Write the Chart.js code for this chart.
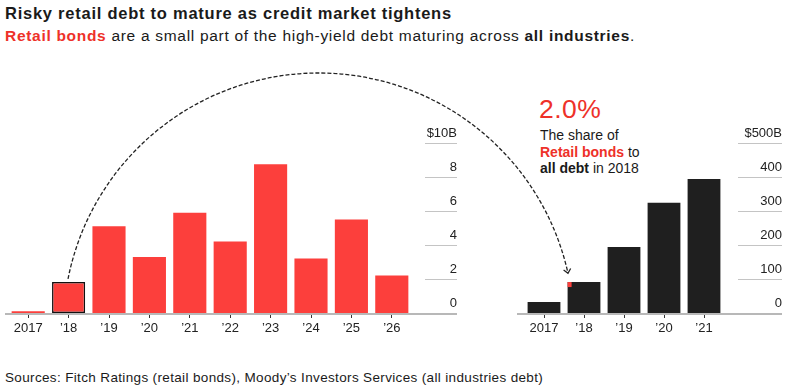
<!DOCTYPE html>
<html><head><meta charset="utf-8">
<script src="https://cdn.jsdelivr.net/npm/chart.js@4/dist/chart.umd.min.js"></script>
<style>
html,body{margin:0;padding:0;background:#fff;}
body{width:800px;height:388px;position:relative;overflow:hidden;font-family:"Liberation Sans",Arial,sans-serif;color:#1a1a1a;}
#title{position:absolute;left:5px;top:4px;font-size:16.5px;letter-spacing:0.75px;font-weight:bold;white-space:nowrap;}
#sub{position:absolute;left:5px;top:27px;font-size:15.5px;letter-spacing:0.7px;white-space:nowrap;}
.red{color:#ee3129;font-weight:bold}
.b{font-weight:bold}
#pct{position:absolute;left:539px;top:94px;font-size:26.5px;letter-spacing:0.5px;color:#ee3129;white-space:nowrap;}
#note{position:absolute;left:540px;top:127px;font-size:14px;line-height:16.5px;white-space:nowrap;}
#src{position:absolute;left:5px;top:370px;font-size:13.5px;letter-spacing:0.35px;white-space:nowrap;}
canvas{position:absolute;top:0}
#overlay{pointer-events:none}
</style>
</head><body>
<div id="title">Risky retail debt to mature as credit market tightens</div>
<div id="sub"><span class="red">Retail bonds</span> are a small part of the high-yield debt maturing across <span class="b">all industries</span>.</div>
<div id="pct">2.0%</div>
<div id="note">The share of<br><span class="red">Retail bonds</span> to<br><span class="b">all debt</span> in 2018</div>
<div id="src">Sources: Fitch Ratings (retail bonds), Moody’s Investors Services (all industries debt)</div>
<canvas id="left" width="470" height="388" style="left:0"></canvas>
<canvas id="right" width="320" height="388" style="left:480px"></canvas>
<canvas id="overlay" width="800" height="388" style="left:0"></canvas>
<script>
const leftLabels = ['2017','’18','’19','’20','’21','’22','’23','’24','’25','’26'];
const retailBonds = [0.1,1.82,5.1,3.3,5.9,4.2,8.75,3.2,5.5,2.2];
const leftTicks = [0,2,4,6,8,10];
const rightLabels = ['2017','’18','’19','’20','’21'];
const allDebt = [32,91,194,324,394];
const rightTicks = [0,100,200,300,400,500];

const RED = '#fc3f3c';
const DARK = '#1f1f1f';
const FONT = '"Liberation Sans", Arial, sans-serif';

function deco(o){ return {
  id:'deco',
  beforeDatasetsDraw(chart){
    const ctx=chart.ctx, y=chart.scales.y, ca=chart.chartArea;
    ctx.save();
    ctx.strokeStyle='#c4c4c4'; ctx.lineWidth=1;
    y.ticks.forEach(t=>{
      if(t.value===0) return;
      const py=Math.round(y.getPixelForValue(t.value))+0.5;
      ctx.beginPath(); ctx.moveTo(y.right-o.tickLen,py); ctx.lineTo(y.right,py); ctx.stroke();
    });
    ctx.strokeStyle='#b8b8b8'; ctx.lineWidth=2;
    const by=y.getPixelForValue(0)+1;
    ctx.beginPath(); ctx.moveTo(ca.left-o.baseInset,by); ctx.lineTo(y.right,by); ctx.stroke();
    ctx.restore();
  },
  afterDatasetsDraw(chart){
    if(!o.marker) return;
    const bar=chart.getDatasetMeta(0).data[1];
    const ctx=chart.ctx;
    ctx.save(); ctx.fillStyle=RED;
    ctx.fillRect(bar.x-bar.width/2, bar.y, 4, 5);
    ctx.restore();
  }
};}

function makeChart(id, labels, data, ticks, topLabel, color, borderW, borderC, pad, yWidth, o){
  return new Chart(document.getElementById(id), {
    type:'bar',
    data:{labels, datasets:[{data, backgroundColor:color, borderWidth:borderW, borderColor:borderC,
      categoryPercentage:1, barPercentage:0.82, borderSkipped:false}]},
    options:{
      responsive:false, animation:false, devicePixelRatio:1,
      layout:{padding:pad},
      plugins:{legend:{display:false}, tooltip:{enabled:false}},
      scales:{
        x:{grid:{display:true, drawOnChartArea:false, drawTicks:true, tickLength:5, color:'#333', offset:false, lineWidth:1},
           border:{display:false},
           ticks:{padding:3, color:'#222', font:{size:13, family:FONT}, maxRotation:0, autoSkip:false},
           afterFit:s=>{s.height=30;}},
        y:{position:'right', min:0, max:ticks[ticks.length-1],
           afterBuildTicks:s=>{s.ticks=ticks.map(v=>({value:v}));},
           grid:{display:false, drawTicks:false}, border:{display:false},
           ticks:{crossAlign:'far', padding:0, labelOffset:-10, color:'#222', font:{size:13, family:FONT},
             callback:(v)=> v===ticks[ticks.length-1] ? topLabel : String(v)},
           afterFit:s=>{s.width=yWidth;}}
      }
    },
    plugins:[deco(o)]
  });
}

const leftChart = makeChart('left', leftLabels, retailBonds, leftTicks, '$10B', RED,
  leftLabels.map((_,i)=> i===1?1.5:0), leftLabels.map((_,i)=> i===1?'#111':RED),
  {left:8,right:13,top:143,bottom:45}, 45, {tickLen:32, baseInset:3, marker:false});
const rightChart = makeChart('right', rightLabels, allDebt, rightTicks, '$500B', DARK, 0, DARK,
  {left:44,right:18,top:143,bottom:45}, 58, {tickLen:44, baseInset:7, marker:true});

// connecting arc
(function(){
  const cv=document.getElementById('overlay'), ctx=cv.getContext('2d');
  const lb=leftChart.getDatasetMeta(0).data[1];
  const rb=rightChart.getDatasetMeta(0).data[1];
  const x1=lb.x, y1=lb.y-3;
  const x2=480+rb.x-rb.width/2+1, y2=rb.y-9;
  const apexY=73;
  const cx=(x1+x2)/2, w=(x2-x1)/2, y0=(y1+y2)/2, h=y0-apexY;
  const r=(w*w+h*h)/(2*h), cy=apexY+r;
  const a1=Math.atan2(y1-cy,x1-cx), a2=Math.atan2(y2-cy,x2-cx);
  ctx.strokeStyle='#222'; ctx.lineWidth=1.3; ctx.setLineDash([4,2]);
  ctx.beginPath(); ctx.arc(cx,cy,r,a1,a2+2*Math.PI*(a2<a1?1:0),false); ctx.stroke();
  ctx.setLineDash([]);
  const ex=cx+r*Math.cos(a2), ey=cy+r*Math.sin(a2);
  const tx=-Math.sin(a2), ty=Math.cos(a2);
  const nx=-ty, ny=tx, L=4;
  ctx.beginPath();
  ctx.moveTo(ex-tx*L+nx*L*0.9, ey-ty*L+ny*L*0.9);
  ctx.lineTo(ex,ey);
  ctx.lineTo(ex-tx*L-nx*L*0.9, ey-ty*L-ny*L*0.9);
  ctx.stroke();
})();
</script>
</body></html>
